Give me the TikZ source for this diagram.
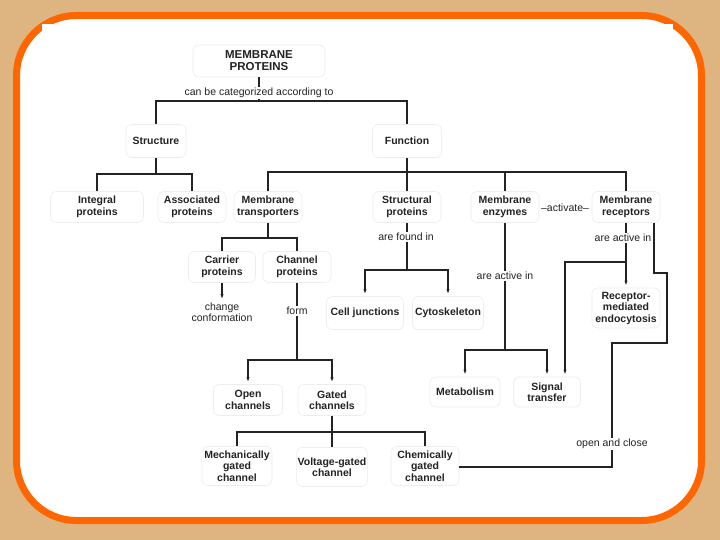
\documentclass[tikz,border=0pt]{standalone}
\usepackage{fontspec}
\setmainfont{Liberation Sans}
\usetikzlibrary{arrows.meta}
\definecolor{bgtan}{RGB}{222,180,128}
\definecolor{frameor}{RGB}{255,102,0}
\definecolor{ink}{RGB}{35,35,35}
\begin{document}
\begin{tikzpicture}[x=1pt,y=-1pt,
  box/.style={draw=black!7, line width=0.6pt, rounded corners=6pt, align=center,
    font=\fontsize{10.5}{11.5}\selectfont\bfseries, text=ink, inner sep=1pt,
    minimum width=68pt, minimum height=31pt},
  lab/.style={align=center, font=\fontsize{10.5}{11.5}\selectfont, text=ink, inner sep=1pt},
  conn/.style={draw=ink, line width=1.4pt},
  arr/.style={conn, -{Stealth[length=4pt,width=3pt]}, shorten >=3pt},
]
\useasboundingbox (0,0) rectangle (720,540);
\fill[bgtan] (0,0) rectangle (720,540);
\draw[frameor, line width=7pt, fill=white, rounded corners=60pt] (16.5,15.5) rectangle (701.5,520.5);
\fill[white] (42,24) rectangle (673,60);

% nodes
\node[box, minimum width=132pt, minimum height=32pt, font=\fontsize{11.5}{12}\selectfont\bfseries] (mp) at (259,61) {MEMBRANE\\PROTEINS};
\node[lab] (lcat) at (259,93) {can be categorized according to};
\node[box, minimum width=60pt, minimum height=33pt] (struct) at (156,141) {Structure};
\node[box, minimum width=69pt, minimum height=33pt] (func) at (407,141) {Function};
\node[box, minimum width=93pt] (integ) at (97,207) {Integral\\proteins};
\node[box] (assoc) at (192,207) {Associated\\proteins};
\node[box] (mtrans) at (268,207) {Membrane\\transporters};
\node[box] (sprot) at (407,207) {Structural\\proteins};
\node[box] (menz) at (505,207) {Membrane\\enzymes};
\node[box] (mrec) at (626,207) {Membrane\\receptors};
\node[lab] (lact) at (565,208) {–activate–};
\node[box, minimum width=67pt] (carrier) at (222,267) {Carrier\\proteins};
\node[box] (channel) at (297,267) {Channel\\proteins};
\node[lab] (lchange) at (222,312) {change\\conformation};
\node[lab] (lform) at (297,311) {form};
\node[box, minimum width=69pt] (open) at (248,400) {Open\\channels};
\node[box] (gated) at (332,400) {Gated\\channels};
\node[box, minimum width=70pt, minimum height=39pt] (mech) at (237,466) {Mechanically\\gated\\channel};
\node[box, minimum width=70pt, minimum height=39pt] (volt) at (332,467) {Voltage-gated\\channel};
\node[box, minimum height=39pt] (chem) at (425,466) {Chemically\\gated\\channel};
\node[lab] (lfound) at (406,237) {are found in};
\node[box, minimum width=77pt, minimum height=33pt] (celljunc) at (365,313) {Cell junctions};
\node[box, minimum width=71pt, minimum height=33pt] (cyto) at (448,313) {Cytoskeleton};
\node[lab] (lenzact) at (505,276) {are active in};
\node[box, minimum width=70pt, minimum height=30pt] (metab) at (465,392) {Metabolism};
\node[box, minimum width=67pt, minimum height=30pt] (signal) at (547,392) {Signal\\transfer};
\node[lab] (lrecact) at (623,238) {are active in};
\node[box, minimum height=40pt] (rme) at (626,308) {Receptor-\\mediated\\endocytosis};
\node[lab] (lopen) at (612,444) {open and close};

% connectors
\coordinate (j1) at (259,101);
\draw[conn] (mp) -- (lcat);
\draw[conn] (lcat) -- (j1);
\draw[conn] (struct) |- (j1) -| (func);

\coordinate (j2) at (156,174);
\draw[conn] (struct) -- (j2);
\draw[conn] (integ) |- (j2) -| (assoc);

\coordinate (j3) at (407,172);
\draw[conn] (func) -- (j3);
\draw[conn] (mtrans) |- (j3) -| (mrec);
\draw[conn] (j3) -- (sprot);
\draw[conn] (j3) -| (menz);

\coordinate (j4) at (268,238);
\draw[conn] (mtrans) -- (j4);
\draw[conn] (carrier) |- (j4) -| (channel);
\draw[arr] (carrier) -- (lchange);
\draw[conn] (channel) -- (lform);
\coordinate (j5) at (297,360);
\draw[conn] (lform) -- (j5);
\draw[arr] (j5) -| (open);
\draw[arr] (j5) -| (gated);

\coordinate (j6) at (332,432);
\draw[conn] (gated) -- (volt);
\draw[conn] (mech) |- (j6) -| (chem);

\draw[conn] (sprot) -- (sprot |- lfound.north);
\coordinate (j7) at (407,270);
\draw[conn] (sprot |- lfound.south) -- (j7);
\draw[arr] (j7) -| (celljunc);
\draw[arr] (j7) -| (cyto);

\draw[conn] (menz) -- (lenzact);
\coordinate (j8) at (505,350);
\draw[conn] (lenzact) -- (j8);
\draw[arr] (j8) -| (metab);
\draw[arr] (j8) -| (signal);

\draw[conn] (mrec) -- (mrec |- lrecact.north);
\draw[arr] (mrec |- lrecact.south) -- (rme);
\coordinate (j9) at (626,262);
\coordinate (c1) at (565,262);
\draw[arr] (j9) -- (c1) -- (c1 |- signal.north);

\coordinate (r1) at (654,223);
\coordinate (r2) at (654,273);
\coordinate (r3) at (667,273);
\coordinate (r4) at (667,343);
\coordinate (r5) at (612,343);
\coordinate (r6) at (612,467);
\draw[conn] (r1) -- (r2) -- (r3) -- (r4) -- (r5) -- (lopen);
\draw[conn] (lopen) -- (r6) -- (chem.east |- r6);
\end{tikzpicture}
\end{document}
